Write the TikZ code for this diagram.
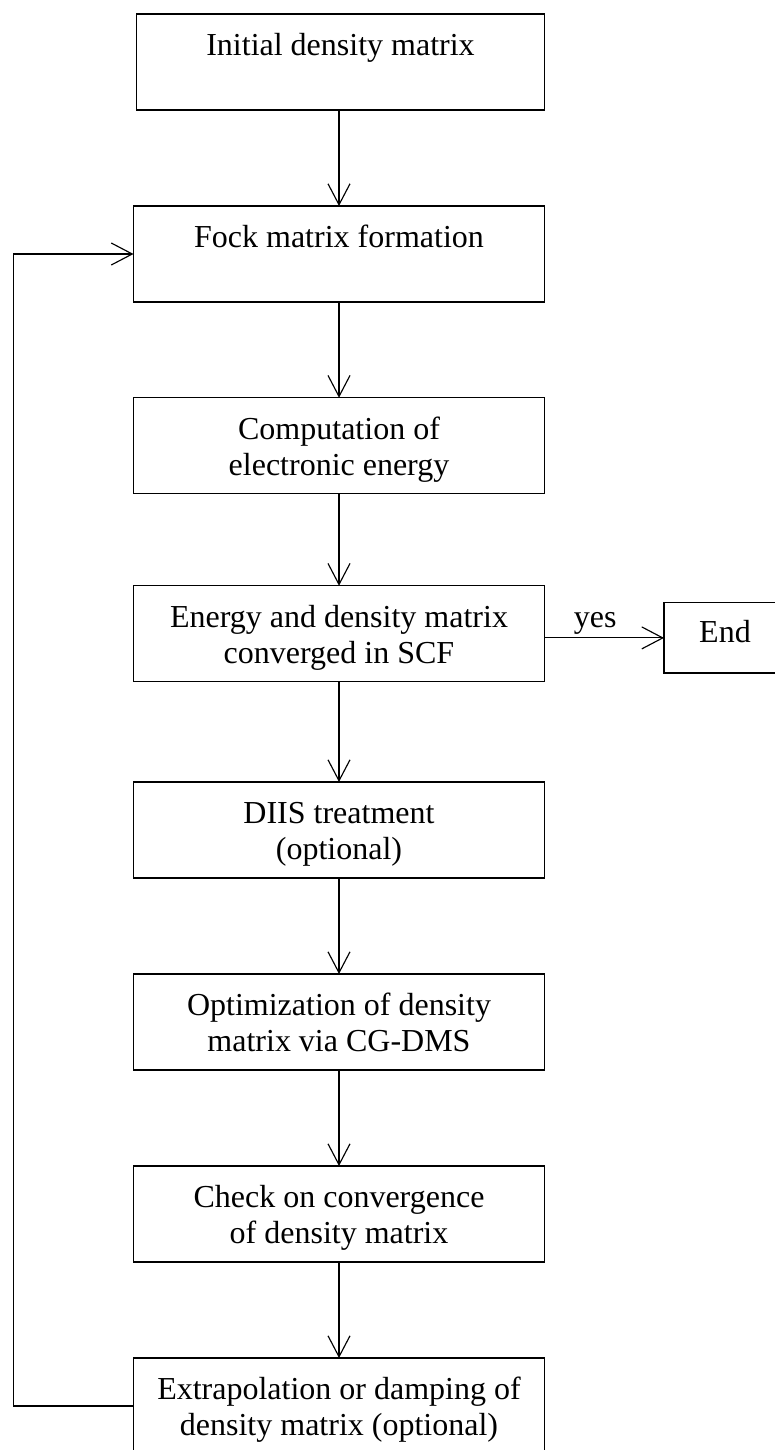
\documentclass[tikz,border=0pt]{standalone}
\usepackage{fontspec}
\setmainfont{Liberation Serif}
\usetikzlibrary{arrows.meta}

% box contents: width, height, baseline of the first line from the top, text
\newcommand\flowlines[4]{%
  \parbox[c][#2][t]{#1}{\centering\fontsize{32}{36.3}\selectfont\rule{0pt}{#3}#4}}

\tikzset{
  flowbox/.style={draw, rectangle, line width=1.3pt, inner sep=0pt, outer sep=0pt},
  flowarrow/.style={line width=1.15pt, -{Straight Barb[length=21pt,width=22pt]}}
}

\begin{document}
\begin{tikzpicture}[x=1pt, y=-1pt]
  \fill[white] (0,0) rectangle (774,1450);
  \useasboundingbox (0,0) rectangle (774,1450);

  \node[flowbox] (init) at (340.5,62)
    {\flowlines{408pt}{96pt}{41.3pt}{Initial density matrix}};
  \node[flowbox] (fock) at (339,254)
    {\flowlines{411pt}{96pt}{41.3pt}{Fock matrix formation}};
  \node[flowbox] (energy) at (339,445.7)
    {\flowlines{411pt}{96pt}{41.3pt}{Computation of\\electronic energy}};
  \node[flowbox] (conv) at (339,633.7)
    {\flowlines{411pt}{96pt}{41.3pt}{Energy and density matrix\\converged in SCF}};
  \node[flowbox] (diis) at (339,830)
    {\flowlines{411pt}{96pt}{41.3pt}{DIIS treatment\\(optional)}};
  \node[flowbox] (cgdms) at (339,1022)
    {\flowlines{411pt}{96pt}{41.3pt}{Optimization of density\\matrix via CG-DMS}};
  \node[flowbox] (check) at (339,1214)
    {\flowlines{411pt}{96pt}{41.3pt}{Check on convergence\\of density matrix}};
  \node[flowbox] (extra) at (339,1406)
    {\flowlines{411pt}{96pt}{41.3pt}{Extrapolation or damping of\\density matrix (optional)}};
  \node[flowbox] (end) at (725,637.9)
    {\flowlines{122pt}{70.3pt}{40pt}{End}};

  \coordinate (loopx) at (13.3,0);

  \draw[flowarrow] (init.south -| fock.north) -- (fock.north);
  \draw[flowarrow] (fock) -- (energy);
  \draw[flowarrow] (energy) -- (conv);
  \draw[flowarrow] (conv) -- (diis);
  \draw[flowarrow] (diis) -- (cgdms);
  \draw[flowarrow] (cgdms) -- (check);
  \draw[flowarrow] (check) -- (extra);

  \draw[flowarrow] (end.west -| conv.east) -- (end.west)
    node[pos=0.424, anchor=base, yshift=10pt, inner sep=0pt] (yes)
      {\fontsize{32}{36.3}\selectfont yes};

  \draw[flowarrow] (extra.west) -- (extra.west -| loopx)
    -- (fock.west -| loopx) -- (fock.west);
\end{tikzpicture}
\end{document}
